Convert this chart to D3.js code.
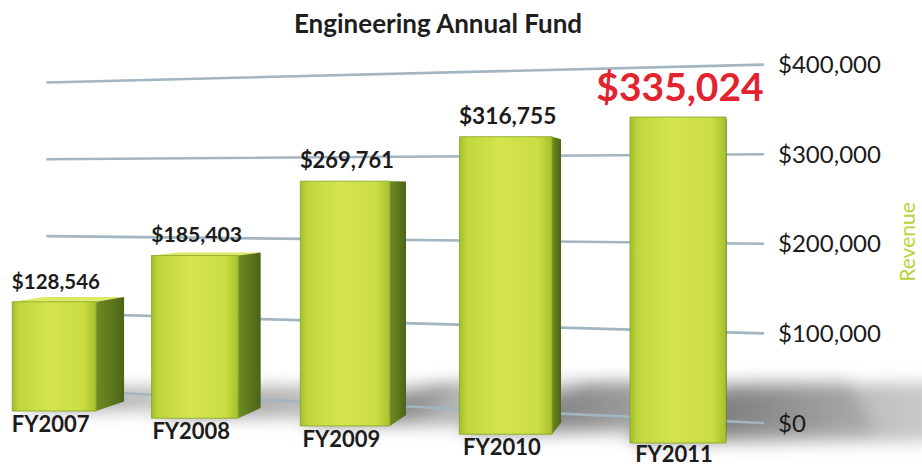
<!DOCTYPE html>
<html>
<head>
<meta charset="utf-8">
<script src="https://cdn.jsdelivr.net/npm/d3@7"></script>
<style>
    body { margin: 0; background: #fff; }
    svg { display: block; }
</style>
</head>
<body>
<div id="main"></div>
<script>
var title = "Engineering Annual Fund";
var axisTitle = "Revenue";
var years = ["FY2007", "FY2008", "FY2009", "FY2010", "FY2011"];
var revenue = [128546, 185403, 269761, 316755, 335024];
var tickValues = [0, 100000, 200000, 300000, 400000];

var ctx = {
    w: 922,
    h: 468,
    f: 1000,      // focal length of the little camera
    cx: 740,      // vanishing point of the depth axis
    cy: 190,      // horizon
    slope: 0.2,   // how much the row recedes as it goes left
    barW: 96,
    barD: 52,
};

// camera at origin looking down +z, y up
var project = function (p) {
    return [ctx.cx + ctx.f * p[0] / p[2], ctx.cy - ctx.f * p[1] / p[2]];
};
var path = function (pts) {
    return "M" + pts.map(function (p) { return project(p).join(","); }).join("L") + "Z";
};

var createViz = function () {
    var svg = d3.select("#main").append("svg")
        .attr("width", ctx.w)
        .attr("height", ctx.h)
        .style("font-family", "Lato, 'Open Sans', sans-serif");

    var defs = svg.append("defs");
    var front = defs.append("linearGradient").attr("id", "front");
    [[0, "#a3bf2b"], [0.08, "#bfd73c"], [0.45, "#d5e54d"], [0.85, "#cadd43"], [1, "#a6c02e"]]
        .forEach(function (s) { front.append("stop").attr("offset", s[0]).attr("stop-color", s[1]); });
    var side = defs.append("linearGradient").attr("id", "side");
    [[0, "#6f8b22"], [1, "#4c6418"]]
        .forEach(function (s) { side.append("stop").attr("offset", s[0]).attr("stop-color", s[1]); });
    var fade = defs.append("linearGradient").attr("id", "fade");
    fade.append("stop").attr("offset", 0).attr("stop-color", "#000").attr("stop-opacity", 0.42);
    fade.append("stop").attr("offset", 1).attr("stop-color", "#000").attr("stop-opacity", 0.1);
    defs.append("filter").attr("id", "blur")
        .attr("x", "-50%").attr("y", "-50%").attr("width", "200%").attr("height", "200%")
        .append("feGaussianBlur").attr("stdDeviation", 8);

    // world scales
    var y = d3.scaleLinear().domain([0, 400000]).range([-253, 136.2]);
    var x = d3.scalePoint().domain(years).range([-785, -62]);
    var rowZ = function (wx) { return 1000 + ctx.slope * (-62 - wx); };
    var wall = { x0: -877, x1: 25 };
    var wallZ = function (wx) { return 1086 + ctx.slope * (25 - wx); };

    var bars = years.map(function (yr, i) {
        var c = x(yr), z0 = rowZ(c);
        return {
            year: yr, value: revenue[i], last: i === years.length - 1,
            x0: c - ctx.barW / 2, x1: c + ctx.barW / 2, c: c,
            z0: z0, z1: z0 + ctx.barD,
            y0: y(0), y1: y(revenue[i]),
        };
    });

    // floor shadows, fanning out to the back right
    var shadow = svg.append("g").attr("filter", "url(#blur)");
    bars.forEach(function (b) {
        var hgt = b.y1 - b.y0, fy = b.y0;
        shadow.append("path")
            .attr("d", path([
                [b.x0, fy, b.z0], [b.x1, fy, b.z0], [b.x1 + 1.1 * hgt, fy, b.z0 + 0.03 * hgt],
                [b.x1 + 1.1 * hgt, fy, b.z1 + 0.85 * hgt], [b.x0 + 0.3 * hgt, fy, b.z1 + 0.7 * hgt], [b.x0, fy, b.z1]
            ]))
            .attr("fill", "url(#fade)");
    });

    // gridlines on the back wall
    svg.append("g").selectAll("line")
        .data(tickValues)
        .enter()
        .append("line")
        .each(function (v) {
            var a = project([wall.x0, y(v), wallZ(wall.x0)]);
            var b = project([wall.x1, y(v), wallZ(wall.x1)]);
            d3.select(this).attr("x1", a[0]).attr("y1", a[1]).attr("x2", b[0]).attr("y2", b[1]);
        })
        .attr("stroke", "#a2b5c1")
        .attr("stroke-width", 2.6)
        .attr("stroke-linecap", "round");

    // tick labels at the right end
    svg.append("g").selectAll("text")
        .data(tickValues)
        .enter()
        .append("text")
        .attr("x", 778)
        .attr("y", function (v) { return project([wall.x1, y(v), wallZ(wall.x1)])[1]; })
        .attr("dy", "0.36em")
        .attr("font-size", 24)
        .attr("fill", "#1b1b1b")
        .text(function (v) { return "$" + d3.format(",")(v); });

    // bars, far to near
    var g = svg.append("g").selectAll("g").data(bars).enter().append("g");
    g.append("path")
        .attr("d", function (b) { return path([[b.x0, b.y1, b.z0], [b.x1, b.y1, b.z0], [b.x1, b.y1, b.z1], [b.x0, b.y1, b.z1]]); })
        .attr("fill", "#dde866");
    g.append("path")
        .attr("d", function (b) { return path([[b.x1, b.y0, b.z0], [b.x1, b.y1, b.z0], [b.x1, b.y1, b.z1], [b.x1, b.y0, b.z1]]); })
        .attr("fill", "url(#side)");
    g.append("path")
        .attr("d", function (b) { return path([[b.x0, b.y0, b.z0], [b.x0, b.y1, b.z0], [b.x1, b.y1, b.z0], [b.x1, b.y0, b.z0]]); })
        .attr("fill", "url(#front)")
        .attr("stroke", "#84a325")
        .attr("stroke-width", 0.8);

    // value labels, sized by depth
    g.append("text")
        .attr("x", function (b) { return project([b.c + 2, 0, b.z0])[0]; })
        .attr("y", function (b) { return project([b.c, b.y1, b.z0])[1] - (b.last ? 16 : 13); })
        .attr("text-anchor", "middle")
        .attr("font-weight", "bold")
        .attr("font-size", function (b) { return b.last ? 39 : 23.5 * ctx.f / b.z0; })
        .attr("fill", function (b) { return b.last ? "#e3242f" : "#1c1c1c"; })
        .text(function (b) { return "$" + d3.format(",")(b.value); });

    // category labels
    g.append("text")
        .attr("x", function (b) { return project([b.c - 4, 0, b.z0])[0]; })
        .attr("y", function (b) { return Math.min(project([b.c, b.y0, b.z0])[1] + 21, 462); })
        .attr("text-anchor", "middle")
        .attr("font-weight", "bold")
        .attr("font-size", 22)
        .attr("fill", "#1c1c1c")
        .text(function (b) { return b.year; });

    svg.append("text")
        .attr("x", 438)
        .attr("y", 33)
        .attr("text-anchor", "middle")
        .attr("font-weight", "bold")
        .attr("font-size", 26)
        .attr("fill", "#1e1e1e")
        .text(title);

    svg.append("text")
        .attr("transform", "translate(915,242) rotate(-90)")
        .attr("text-anchor", "middle")
        .attr("font-size", 21)
        .attr("fill", "#b7d334")
        .text(axisTitle);
};

createViz();
</script>
</body>
</html>
